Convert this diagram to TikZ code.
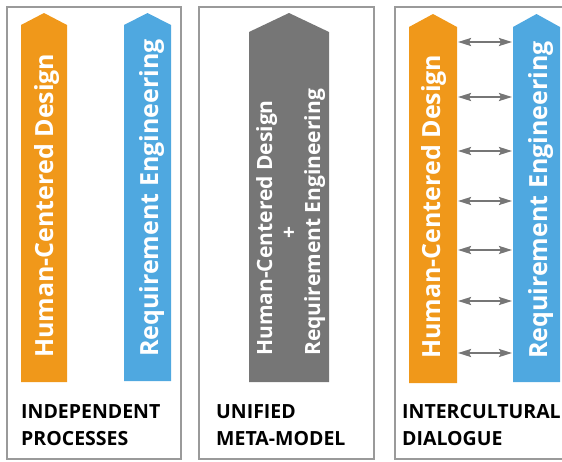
\documentclass[tikz,border=0pt]{standalone}
\usepackage{fontspec}
\setmainfont{Open Sans}
\usetikzlibrary{arrows.meta}
\definecolor{hcdorange}{HTML}{F0981A}
\definecolor{reblue}{HTML}{4FA8E0}
\definecolor{metagray}{HTML}{767676}
\definecolor{framegray}{HTML}{9A9A9A}
\tikzset{
    panel/.style={draw=framegray, line width=1.2pt},
    coltext/.style={text=white, font=\bfseries\fontsize{25}{25}\selectfont, inner sep=0pt, rotate=90, anchor=base west},
    metatext/.style={text=white, font=\bfseries\fontsize{21}{21}\selectfont, inner sep=0pt, rotate=90, anchor=base west},
    caption/.style={font=\bfseries\fontsize{19.5}{26.5}\selectfont, inner sep=0pt, align=left, anchor=base west},
    dialog/.style={<->, >={Stealth[length=13pt,width=8pt,inset=2pt]}, draw=metagray, line width=2pt}
}
\begin{document}
\begin{tikzpicture}[x=1pt, y=-1pt]
\useasboundingbox (0,0) rectangle (562,461);
% frames
\draw[panel] (7,7) rectangle (181,459);
\draw[panel] (199,7) rectangle (374,459);
\draw[panel] (395,7) rectangle (580,459);
% independent processes
\fill[hcdorange] (21,382)--(21,25)--(44,13)--(67,25)--(67,382)--cycle;
\fill[reblue] (124,381)--(124,25)--(147.5,13)--(171,25)--(171,381)--cycle;
\node[coltext] (hcdA) at (53,358) {Human-Centered Design};
\node[coltext] (reA) at (158,357) {Requirement Engineering};
\node[caption] (capA) at (21,445) {INDEPENDENT\\PROCESSES};
% unified meta-model
\fill[metagray] (249,382)--(249,32)--(289,13)--(329,32)--(329,382)--cycle;
\node[metatext] (hcdB) at (272,356) {Human-Centered Design};
\node[text=white, font=\bfseries\fontsize{21}{21}\selectfont, rotate=90, inner sep=0pt] (plusB) at (290,233) {+};
\node[metatext] (reB) at (320,356) {Requirement Engineering};
\node[caption] (capB) at (216,445) {UNIFIED\\META-MODEL};
% intercultural dialogue
\fill[hcdorange] (409,383)--(409,27)--(433,14)--(457,27)--(457,383)--cycle;
\fill[reblue] (513,382)--(513,27)--(536.5,14)--(560,27)--(560,382)--cycle;
\node[coltext] (hcdC) at (440,359) {Human-Centered Design};
\node[coltext] (reC) at (547,359) {Requirement Engineering};
\foreach \y [count=\i] in {42,97,151,201,250,301,353}
{
    \coordinate (l\i) at (458,\y);
    \coordinate (r\i) at (512,\y);
    \draw[dialog] (l\i)--(r\i);
}
\node[caption] (capC) at (402,445) {INTERCULTURAL\\DIALOGUE};
\end{tikzpicture}
\end{document}
